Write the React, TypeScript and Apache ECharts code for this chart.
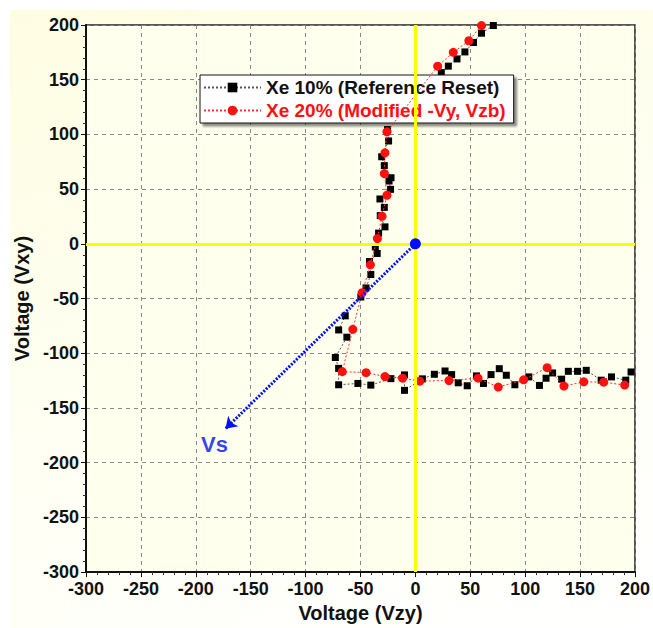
import React, { useEffect, useRef } from "react";
import * as echarts from "echarts";

const seriesNames = ["Xe 10% (Reference Reset)", "Xe 20% (Modified -Vy, Vzb)"];

const xe10: number[][] = [
  [71, 199.5], [60.2, 192.5], [52.9, 184], [45.1, 175.4], [37.9, 169], [30, 162.4], [23.6, 156.5],
  [-25.3, 104.5], [-24.4, 94], [-30.7, 79.6], [-28.3, 71.5], [-22.2, 60.4], [-24, 57.4], [-22.6, 49.8],
  [-32.3, 41], [-28.3, 33.3], [-32, 25.8], [-27.7, 15.5], [-33.5, 9.8], [-36.5, -2.7], [-34.8, -8.8],
  [-41.8, -16.2], [-40.6, -28], [-45, -40.3], [-49.7, -48.6], [-63.9, -65.8], [-69.9, -78.7],
  [-62.4, -85.3], [-72.9, -103.9], [-69.9, -113.8], [-69.9, -128.8], [-52.4, -127.6], [-40.6, -129.1],
  [-22.3, -123.2], [-9.9, -119.8], [-9.9, -133.9], [6.4, -123.4], [17.3, -119.2], [27, -116.2],
  [33, -119.5], [39, -127], [47.2, -129.7], [55.6, -120.7], [62, -127.6], [68.9, -119.5], [76.4, -114.1],
  [82.8, -120.1], [90.6, -128.8], [103.3, -121.6], [113, -129.4], [119, -122.8], [125, -118],
  [133.2, -123.7], [139.3, -116.5], [147.7, -116.5], [155.6, -115.6], [169.2, -124.6], [178.6, -121.6],
  [191.6, -124.6], [196.4, -117.1],
];

const xe20: number[][] = [
  [60.2, 199.5], [48.7, 185.6], [34.5, 175], [20.3, 162.4],
  [-25.9, 102.4], [-27.7, 83.2], [-28.3, 64.2], [-25.9, 44.4], [-30.4, 25.2], [-34.6, 4.8],
  [-41, -19.2], [-48.5, -44.7], [-57, -78.1], [-66.6, -116.8], [-44.9, -117.7], [-27.7, -121.3],
  [-11.7, -122.8], [4, -125.5], [30.6, -124.9], [57.1, -122.8], [75.5, -130.9], [98.6, -124.3],
  [120, -113.2], [135.3, -130], [153.4, -126.1], [171.5, -126.4], [190.6, -129.1],
];

const vsVector: number[][] = [[0, 0], [-173, -169]];
const vsLabelPos: number[] = [-183, -183];
const vsLabel = "Vs";

const axisMin = -300;
const axisMax = 200;
const axisStep = 50;
const xName = "Voltage (Vzy)";
const yName = "Voltage (Vxy)";

const FONT = "'Liberation Sans', Arial, sans-serif";

export default function App() {
  const ref = useRef<HTMLDivElement>(null);
  useEffect(() => {
    document.body.style.margin = "0";
    document.body.style.overflow = "hidden";
    document.documentElement.style.overflow = "hidden";
    if (!ref.current) return;
    const chart = echarts.init(ref.current, null, { renderer: "svg" });
    const axisCommon = {
      type: "value",
      min: axisMin,
      max: axisMax,
      interval: axisStep,
      nameLocation: "middle",
      nameTextStyle: { fontFamily: FONT, fontWeight: "bold", fontSize: 20, color: "#111" },
      axisLine: { show: true, onZero: false, lineStyle: { color: "#111", width: 2 } },
      axisTick: { show: true, inside: false, length: 5, lineStyle: { color: "#111", width: 1 } },
      minorTick: { show: true, splitNumber: 5, length: 3, lineStyle: { color: "#333" } },
      axisLabel: { fontFamily: FONT, fontWeight: "bold", fontSize: 18, color: "#111" },
      splitLine: { show: true, lineStyle: { color: "#888", type: [4, 4], width: 1 } },
    };
    chart.setOption({
      animation: false,
      textStyle: { fontFamily: FONT },
      grid: {
        left: 86, top: 25, right: 15, bottom: 48,
        show: true, backgroundColor: "#FFFFEE", borderColor: "#222", borderWidth: 1.5,
      },
      xAxis: {
        ...axisCommon,
        name: xName,
        nameGap: 28,
        axisLabel: { ...axisCommon.axisLabel, margin: 8 },
      },
      yAxis: {
        ...axisCommon,
        name: yName,
        nameGap: 39,
        axisLabel: { ...axisCommon.axisLabel, margin: 7 },
      },
      legend: {
        orient: "vertical",
        left: 200,
        top: 75,
        padding: [3, 8, 3, 3],
        itemWidth: 57,
        itemHeight: 12,
        itemGap: 4,
        backgroundColor: "#FFFFFF",
        borderColor: "#111",
        borderWidth: 1,
        shadowColor: "rgba(0,0,0,0.45)",
        shadowBlur: 2,
        shadowOffsetX: 3,
        shadowOffsetY: 3,
        textStyle: { fontFamily: FONT, fontWeight: "bold", fontSize: 19, lineHeight: 19 },
        data: [
          { name: seriesNames[0], textStyle: { color: "#111" } },
          { name: seriesNames[1], textStyle: { color: "#FF1010" } },
        ],
      },
      series: [
        {
          type: "line",
          name: "axes0",
          data: [],
          z: 1,
          silent: true,
          markLine: {
            silent: true,
            symbol: ["none", "none"],
            label: { show: false },
            lineStyle: { color: "#FFFF00", width: 3, type: "solid" },
            data: [{ xAxis: 0 }, { yAxis: 0 }],
          },
        },
        {
          type: "line",
          name: seriesNames[0],
          data: xe10,
          z: 3,
          symbol: "rect",
          symbolSize: 7,
          itemStyle: { color: "#000" },
          lineStyle: { color: "#555", width: 1, type: [2, 2] },
        },
        {
          type: "line",
          name: seriesNames[1],
          data: xe20,
          z: 4,
          symbol: "circle",
          symbolSize: 9,
          itemStyle: { color: "#FF1010" },
          lineStyle: { color: "#FF3030", width: 1, type: [2, 2] },
        },
        {
          type: "lines",
          coordinateSystem: "cartesian2d",
          z: 5,
          symbol: ["circle", "arrow"],
          symbolSize: [11, 11],
          lineStyle: { color: "#0010FF", width: 3, type: [2, 1.5], opacity: 1 },
          data: [{ coords: vsVector }],
        },
        {
          type: "scatter",
          z: 6,
          symbolSize: 0,
          data: [vsLabelPos],
          label: {
            show: true,
            position: "inside",
            formatter: vsLabel,
            color: "#0010EE",
            fontFamily: FONT,
            fontWeight: "bold",
            fontSize: 22,
          },
        },
      ],
    });
    return () => chart.dispose();
  }, []);
  return (
    <div style={{ width: 653, height: 628, background: "#fff", position: "relative", overflow: "hidden" }}>
      <div
        style={{
          position: "absolute", left: 10, top: 10, right: 0, bottom: 0,
          background: "linear-gradient(160deg, #FEFDE2 0%, #FFFFF4 55%, #FFFFFF 100%)",
        }}
      />
      <div ref={ref} style={{ position: "absolute", left: 0, top: 0, width: 653, height: 628 }} />
    </div>
  );
}
